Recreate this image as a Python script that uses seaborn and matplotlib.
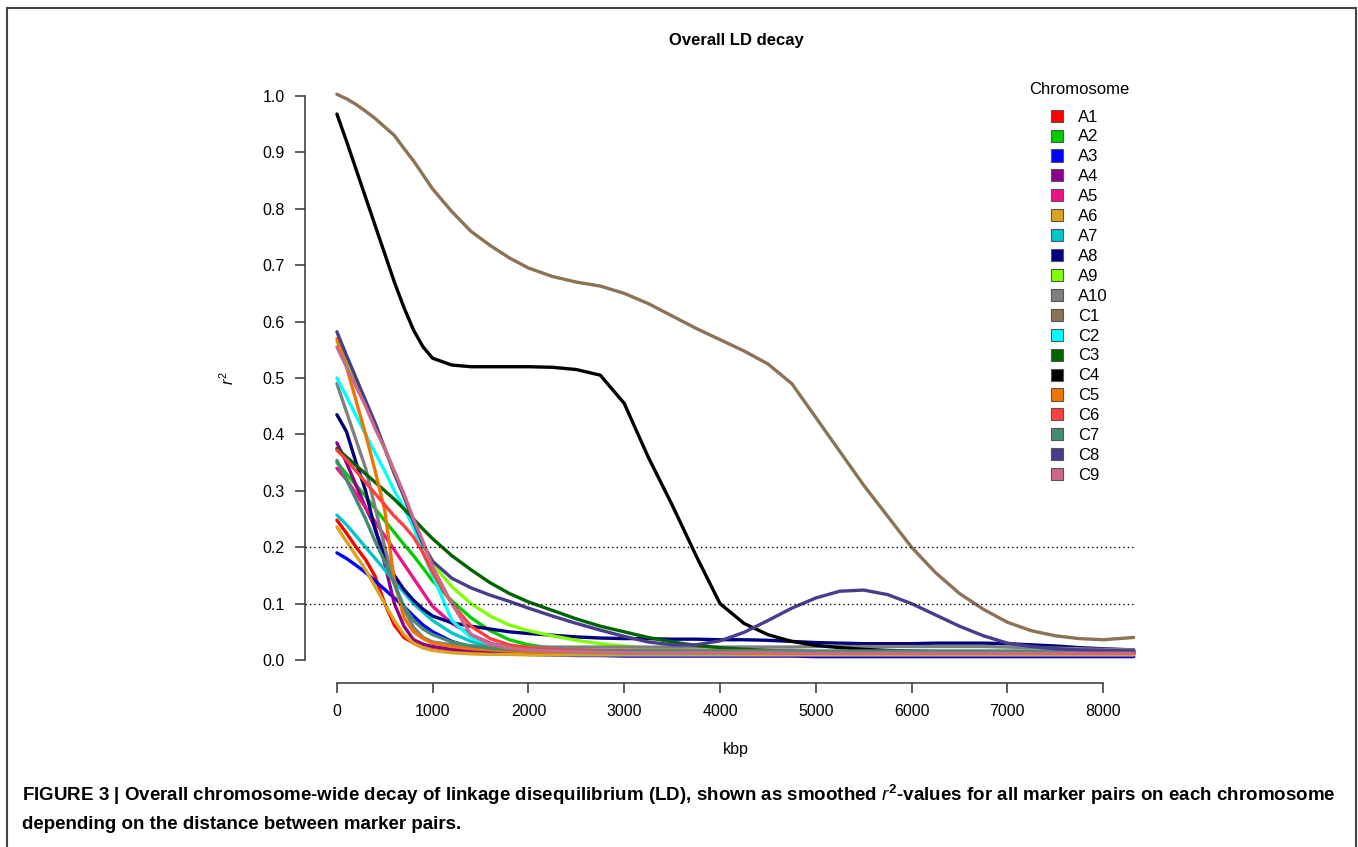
import pandas as pd
import numpy as np
import matplotlib
matplotlib.use('Agg')
import matplotlib.pyplot as plt
from matplotlib.patches import Patch, Rectangle
import seaborn as sns

# --- DATA (smoothed r^2) ---
kbp = [0, 100, 200, 300, 400, 500, 600, 700, 800, 900, 1000,
       1200, 1400, 1600, 1800, 2000,
       2250, 2500, 2750, 3000, 3250, 3500, 3750, 4000,
       4250, 4500, 4750, 5000, 5250, 5500, 5750, 6000,
       6250, 6500, 6750, 7000, 7250, 7500, 7750, 8000, 8320]

A1 = [0.248, 0.225, 0.2, 0.178, 0.148, 0.10, 0.062, 0.04, 0.03, 0.022, 0.018,
      0.014, 0.012, 0.011, 0.011, 0.011,
      0.011, 0.011, 0.010, 0.010, 0.010, 0.010, 0.010, 0.010,
      0.010, 0.010, 0.010, 0.010, 0.010, 0.010, 0.010, 0.010,
      0.010, 0.010, 0.010, 0.010, 0.010, 0.010, 0.010, 0.010, 0.010]
A2 = [0.35, 0.33, 0.31, 0.29, 0.268, 0.247, 0.226, 0.205, 0.185, 0.163, 0.14,
      0.105, 0.075, 0.052, 0.036, 0.027,
      0.021, 0.018, 0.016, 0.015, 0.014, 0.014, 0.013, 0.013,
      0.013, 0.013, 0.012, 0.012, 0.012, 0.012, 0.012, 0.012,
      0.012, 0.012, 0.012, 0.012, 0.012, 0.012, 0.012, 0.012, 0.012]
A3 = [0.19, 0.18, 0.168, 0.155, 0.14, 0.125, 0.11, 0.095, 0.078, 0.062, 0.05,
      0.033, 0.022, 0.016, 0.012, 0.010,
      0.009, 0.008, 0.008, 0.007, 0.007, 0.007, 0.007, 0.007,
      0.007, 0.007, 0.007, 0.006, 0.006, 0.006, 0.006, 0.006,
      0.006, 0.006, 0.006, 0.006, 0.006, 0.006, 0.006, 0.006, 0.006]
A4 = [0.385, 0.35, 0.31, 0.27, 0.235, 0.17, 0.10, 0.06, 0.036, 0.028, 0.024,
      0.019, 0.017, 0.015, 0.014, 0.013,
      0.013, 0.012, 0.012, 0.012, 0.012, 0.012, 0.012, 0.012,
      0.012, 0.012, 0.012, 0.012, 0.012, 0.011, 0.011, 0.011,
      0.011, 0.011, 0.011, 0.011, 0.011, 0.011, 0.011, 0.011, 0.011]
A5 = [0.34, 0.32, 0.295, 0.27, 0.245, 0.22, 0.195, 0.17, 0.145, 0.12, 0.095,
      0.065, 0.045, 0.03, 0.022, 0.018,
      0.016, 0.015, 0.014, 0.014, 0.013, 0.013, 0.013, 0.013,
      0.013, 0.013, 0.013, 0.013, 0.012, 0.012, 0.012, 0.012,
      0.012, 0.012, 0.012, 0.012, 0.012, 0.012, 0.012, 0.012, 0.012]
A6 = [0.236, 0.21, 0.185, 0.16, 0.13, 0.10, 0.07, 0.045, 0.03, 0.022, 0.017,
      0.013, 0.011, 0.010, 0.010, 0.009,
      0.009, 0.009, 0.009, 0.009, 0.009, 0.009, 0.009, 0.009,
      0.009, 0.009, 0.009, 0.009, 0.009, 0.009, 0.009, 0.009,
      0.009, 0.009, 0.009, 0.009, 0.009, 0.009, 0.009, 0.009, 0.009]
A7 = [0.257, 0.24, 0.22, 0.2, 0.18, 0.16, 0.14, 0.12, 0.10, 0.085, 0.07,
      0.048, 0.033, 0.024, 0.018, 0.015,
      0.014, 0.013, 0.013, 0.012, 0.012, 0.012, 0.012, 0.012,
      0.012, 0.012, 0.012, 0.012, 0.012, 0.012, 0.012, 0.012,
      0.012, 0.012, 0.012, 0.012, 0.012, 0.012, 0.012, 0.012, 0.012]
A8 = [0.435, 0.405, 0.35, 0.30, 0.23, 0.185, 0.15, 0.125, 0.106, 0.09, 0.078,
      0.066, 0.06, 0.055, 0.05, 0.047,
      0.044, 0.041, 0.039, 0.038, 0.038, 0.037, 0.037, 0.036,
      0.036, 0.035, 0.033, 0.031, 0.030, 0.029, 0.029, 0.029,
      0.030, 0.030, 0.030, 0.029, 0.027, 0.025, 0.022, 0.020, 0.018]
A9 = [0.565, 0.53, 0.49, 0.455, 0.415, 0.375, 0.335, 0.29, 0.245, 0.205, 0.17,
      0.13, 0.10, 0.078, 0.062, 0.052,
      0.043, 0.035, 0.029, 0.025, 0.021, 0.019, 0.017, 0.016,
      0.015, 0.015, 0.014, 0.014, 0.014, 0.014, 0.014, 0.014,
      0.014, 0.014, 0.014, 0.014, 0.014, 0.014, 0.014, 0.014, 0.014]
A10 = [0.49, 0.44, 0.39, 0.34, 0.27, 0.20, 0.135, 0.09, 0.058, 0.04, 0.032,
       0.027, 0.025, 0.024, 0.023, 0.023,
       0.023, 0.023, 0.023, 0.023, 0.023, 0.023, 0.023, 0.023,
       0.023, 0.023, 0.023, 0.024, 0.024, 0.024, 0.024, 0.024,
       0.024, 0.024, 0.024, 0.023, 0.022, 0.021, 0.020, 0.019, 0.018]
C1 = [1.003, 0.995, 0.985, 0.973, 0.96, 0.945, 0.93, 0.907, 0.885, 0.86, 0.835,
      0.795, 0.76, 0.735, 0.713, 0.695,
      0.68, 0.67, 0.663, 0.65, 0.632, 0.61, 0.588, 0.568,
      0.548, 0.525, 0.49, 0.43, 0.37, 0.31, 0.255, 0.20,
      0.155, 0.118, 0.09, 0.067, 0.052, 0.043, 0.038, 0.036, 0.04]
C2 = [0.50, 0.467, 0.433, 0.40, 0.367, 0.335, 0.30, 0.27, 0.235, 0.19, 0.15,
      0.07, 0.04, 0.028, 0.021, 0.018,
      0.016, 0.015, 0.014, 0.014, 0.014, 0.014, 0.014, 0.014,
      0.014, 0.014, 0.014, 0.014, 0.014, 0.014, 0.014, 0.014,
      0.014, 0.014, 0.014, 0.014, 0.014, 0.014, 0.014, 0.014, 0.014]
C3 = [0.375, 0.36, 0.345, 0.33, 0.315, 0.30, 0.285, 0.268, 0.25, 0.232, 0.215,
      0.185, 0.16, 0.137, 0.118, 0.103,
      0.088, 0.073, 0.06, 0.05, 0.04, 0.032, 0.026, 0.022,
      0.019, 0.017, 0.016, 0.015, 0.015, 0.014, 0.014, 0.014,
      0.014, 0.013, 0.013, 0.013, 0.013, 0.013, 0.013, 0.013, 0.013]
C4 = [0.968, 0.92, 0.87, 0.82, 0.77, 0.72, 0.67, 0.625, 0.585, 0.555, 0.535,
      0.523, 0.52, 0.52, 0.52, 0.52,
      0.519, 0.515, 0.505, 0.455, 0.36, 0.275, 0.185, 0.10,
      0.065, 0.045, 0.033, 0.026, 0.022, 0.019, 0.017, 0.016,
      0.015, 0.015, 0.015, 0.014, 0.014, 0.014, 0.013, 0.013, 0.013]
C5 = [0.57, 0.52, 0.46, 0.40, 0.335, 0.265, 0.14, 0.075, 0.05, 0.038, 0.03,
      0.024, 0.02, 0.018, 0.016, 0.015,
      0.014, 0.014, 0.013, 0.013, 0.013, 0.013, 0.013, 0.013,
      0.012, 0.012, 0.012, 0.012, 0.012, 0.012, 0.012, 0.012,
      0.012, 0.012, 0.012, 0.012, 0.012, 0.012, 0.012, 0.012, 0.012]
C6 = [0.372, 0.355, 0.335, 0.315, 0.295, 0.275, 0.255, 0.238, 0.218, 0.19, 0.155,
      0.10, 0.06, 0.038, 0.027, 0.022,
      0.019, 0.018, 0.017, 0.017, 0.016, 0.016, 0.016, 0.016,
      0.016, 0.016, 0.016, 0.015, 0.015, 0.015, 0.015, 0.015,
      0.015, 0.015, 0.015, 0.015, 0.015, 0.015, 0.015, 0.015, 0.015]
C7 = [0.354, 0.32, 0.285, 0.25, 0.21, 0.175, 0.135, 0.095, 0.07, 0.055, 0.045,
      0.032, 0.025, 0.021, 0.019, 0.018,
      0.017, 0.016, 0.016, 0.016, 0.016, 0.016, 0.016, 0.016,
      0.016, 0.016, 0.016, 0.016, 0.016, 0.016, 0.016, 0.016,
      0.016, 0.016, 0.016, 0.016, 0.016, 0.016, 0.016, 0.016, 0.016]
C8 = [0.582, 0.54, 0.50, 0.46, 0.42, 0.375, 0.33, 0.29, 0.245, 0.205, 0.175,
      0.145, 0.128, 0.115, 0.104, 0.092,
      0.078, 0.065, 0.053, 0.042, 0.032, 0.027, 0.027, 0.034,
      0.049, 0.07, 0.092, 0.11, 0.122, 0.124, 0.116, 0.10,
      0.08, 0.06, 0.043, 0.03, 0.024, 0.02, 0.018, 0.017, 0.016]
C9 = [0.555, 0.52, 0.485, 0.45, 0.41, 0.375, 0.335, 0.295, 0.25, 0.21, 0.165,
      0.10, 0.045, 0.028, 0.021, 0.018,
      0.016, 0.015, 0.014, 0.013, 0.013, 0.013, 0.013, 0.013,
      0.013, 0.013, 0.012, 0.012, 0.012, 0.012, 0.012, 0.012,
      0.012, 0.012, 0.012, 0.012, 0.012, 0.012, 0.012, 0.012, 0.012]

chromosomes = ['A1', 'A2', 'A3', 'A4', 'A5', 'A6', 'A7', 'A8', 'A9', 'A10',
               'C1', 'C2', 'C3', 'C4', 'C5', 'C6', 'C7', 'C8', 'C9']
series = [A1, A2, A3, A4, A5, A6, A7, A8, A9, A10,
          C1, C2, C3, C4, C5, C6, C7, C8, C9]
colors = ['#FF0000', '#00CD00', '#0000FF', '#8B008B', '#EE1289', '#DAA520',
          '#00C5CD', '#000080', '#7FFF00', '#7F7F7F', '#8B7355', '#00FFFF',
          '#006400', '#000000', '#EE7600', '#FF4040', '#458B74', '#483D8B',
          '#CD6889']

# long table for seaborn
frames = []
for name, vals in zip(chromosomes, series):
    assert len(vals) == len(kbp), name
    frames.append(pd.DataFrame({'kbp': kbp, 'r2': vals, 'Chromosome': name}))
df = pd.concat(frames, ignore_index=True)
palette = dict(zip(chromosomes, colors))

# --- PLOTTING ---
sns.set_style('white')
plt.rcParams['font.family'] = ['Liberation Sans', 'DejaVu Sans']
plt.rcParams['text.color'] = 'black'
plt.rcParams['axes.labelcolor'] = 'black'
plt.rcParams['mathtext.fontset'] = 'custom'
plt.rcParams['mathtext.rm'] = 'Liberation Sans'
plt.rcParams['mathtext.it'] = 'Liberation Sans:italic'
plt.rcParams['mathtext.bf'] = 'Liberation Sans:bold'

W, H = 1358, 847
fig = plt.figure(figsize=(W / 100, H / 100), dpi=100)
ax = fig.add_axes([305 / W, 1 - 682.6 / H, (1167 - 305) / W, (682.6 - 73.4) / H])

sns.lineplot(data=df, x='kbp', y='r2', hue='Chromosome', palette=palette,
             hue_order=chromosomes, estimator=None, sort=False,
             linewidth=2.4, legend=False, ax=ax)

# reference lines
for h in [0.1, 0.2]:
    ax.plot([-333, 8320], [h, h], color='black', lw=1.0, ls=(0, (1, 2.2)))

ax.set_xlim(-333, 8667)
ax.set_ylim(-0.04, 1.04)
ax.set_xticks(np.arange(0, 8001, 1000))
ax.set_yticks(np.arange(0, 1.01, 0.1))
ax.set_yticklabels([f'{v:.1f}' for v in np.arange(0, 1.01, 0.1)])

for s in ['top', 'right']:
    ax.spines[s].set_visible(False)
ax.spines['bottom'].set_bounds(0, 8000)
ax.spines['left'].set_bounds(0, 1)
for s in ['left', 'bottom']:
    ax.spines[s].set_linewidth(1.1)
    ax.spines[s].set_color('#333333')
ax.tick_params(axis='both', direction='out', length=7.2, width=1.1,
               bottom=True, left=True,
               color='#333333', labelsize=11.5, labelcolor='black')
ax.tick_params(axis='x', pad=8)
ax.tick_params(axis='y', pad=7.5)

ax.set_xlabel('kbp', fontsize=11.5, labelpad=17)
ax.set_ylabel(r'$\mathit{r}^{2}$', fontsize=11.5, labelpad=18)

fig.text(736 / W, 1 - 40 / H, 'Overall LD decay', ha='center', va='center',
         fontsize=12, fontweight='bold')

# legend
handles = [Patch(facecolor=c, edgecolor='#555555', linewidth=0.8) for c in colors]
leg = ax.legend(handles, chromosomes, title='Chromosome', loc='upper left',
                bbox_to_anchor=(1029 / W, 1 - 82 / H), bbox_transform=fig.transFigure,
                frameon=False, fontsize=12, title_fontsize=12,
                handlelength=0.74, handleheight=0.74, handletextpad=0.88,
                labelspacing=0.295, borderpad=0, borderaxespad=0)
leg._legend_box.sep = 9.0

# caption
fig.text(22 / W, 1 - 795 / H,
         r'FIGURE 3 | Overall chromosome-wide decay of linkage disequilibrium (LD), shown as smoothed '
         r'$\mathit{r}^{\mathbf{2}}$-values for all marker pairs on each chromosome',
         ha='left', va='center', fontsize=13.5, fontweight='bold')
fig.text(22 / W, 1 - 824 / H, 'depending on the distance between marker pairs.',
         ha='left', va='center', fontsize=13.5, fontweight='bold')

# outer frame
fig.patches.append(Rectangle((7, -20), 1349, 839 + 20, transform=None, fill=False,
                             edgecolor='#444444', linewidth=1.5))

plt.savefig('out.png', dpi=100)
